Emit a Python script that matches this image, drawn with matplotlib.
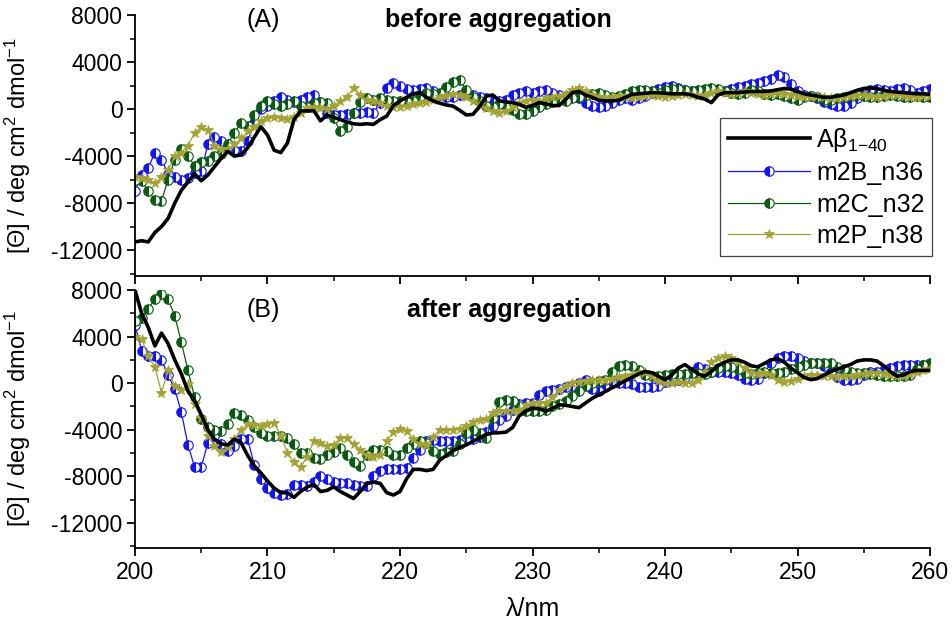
import numpy as np
import matplotlib
matplotlib.use("Agg")
import matplotlib.pyplot as plt
from matplotlib.ticker import MultipleLocator

plt.rcParams['font.family'] = ['Liberation Sans', 'DejaVu Sans']
plt.rcParams['mathtext.fontset'] = 'custom'
plt.rcParams['mathtext.rm'] = 'Liberation Sans'
plt.rcParams['mathtext.it'] = 'Liberation Sans:italic'
plt.rcParams['axes.unicode_minus'] = False

# wavelength grid, 0.5 nm steps
wl = np.arange(200, 260.5, 0.5)

# (A) before aggregation
ab_before = [-11300, -11200, -11300, -10500, -10000, -9300, -8000, -6900, -6200, -5500,
             -6100, -5600, -4900, -4200, -3600, -4000, -3900, -3300, -2400, -1500,
             -2200, -3500, -3700, -2900, -900, -150, -150, -150, -1000, -500,
             -700, -900, -1100, -1250, -1300, -1250, -1300, -900, -600, 300,
             700, 1000, 1300, 1400, 1000, 700, 500, 350, 250, -100,
             -500, -450, 200, 1100, 1200, 700, 600, 550, 400, 150,
             300, 550, 450, 300, 300, 800, 1400, 1500, 1200, 1000,
             750, 700, 700, 750, 1000, 1250, 1300, 1350, 1400, 1400,
             1350, 1300, 1300, 1300, 1200, 1000, 850, 550, 1200, 1400,
             1400, 1400, 1450, 1500, 1500, 1500, 1550, 1650, 1750, 1700,
             1500, 1300, 1200, 1100, 1000, 1000, 1100, 1200, 1400, 1600,
             1750, 1800, 1750, 1600, 1500, 1450, 1400, 1350, 1300, 1300, 1250]
m2b_before = [-7000, -5600, -5000, -3700, -4300, -5500, -5800, -6000, -5900, -5400,
              -5300, -3000, -2400, -2700, -3200, -3500, -3600, -2700, -1200, 0,
              300, 700, 1000, 800, 600, 800, 1000, 1200, 600, -300,
              -500, -500, -400, -300, -300, -250, -300, 500, 1800, 2200,
              2000, 1700, 1600, 1700, 1800, 1500, 1200, 1000, 1000, 1200,
              1300, 1200, 1000, 900, 800, 700, 800, 1200, 1400, 1500,
              1400, 1500, 1600, 1400, 1200, 1100, 1200, 900, 500, 300,
              200, 300, 500, 800, 900, 800, 900, 1100, 1400, 1700,
              1900, 2000, 1800, 1600, 1500, 1400, 1500, 1700, 1600, 1500,
              1700, 1900, 2000, 2100, 2200, 2400, 2600, 2900, 2700, 2100,
              1500, 1200, 1100, 900, 600, 400, 300, 300, 500, 900,
              1300, 1600, 1700, 1600, 1500, 1700, 1800, 1600, 1400, 1500, 1700]
m2c_before = [-6000, -6100, -7000, -7700, -7800, -6000, -4300, -3400, -4000, -4800,
              -4500, -4400, -4000, -3800, -3000, -2000, -1200, -1400, -500, 300,
              700, 400, 250, 400, 700, 300, 200, 500, 600, 500,
              -800, -1900, -1500, -300, 600, 900, 800, 900, 800, 700,
              700, 600, 700, 1100, 1400, 1300, 1400, 1900, 2300, 2500,
              1600, 1000, 700, 300, 200, 400, 200, -100, -400, -400,
              -200, 200, 400, 600, 800, 700, 900, 1000, 1200, 1300,
              1400, 1200, 1000, 1100, 1300, 1500, 1600, 1600, 1500, 1400,
              1600, 1700, 1700, 1600, 1500, 1600, 1700, 1800, 1700, 1500,
              1400, 1300, 1400, 1600, 1500, 1300, 1200, 1300, 1100, 900,
              800, 1000, 1100, 1000, 800, 800, 900, 1000, 1100, 1200,
              1100, 1000, 1000, 1100, 1200, 1100, 1000, 1000, 1100, 1000, 1000]
m2p_before = [-5800, -5900, -6000, -6300, -5800, -5200, -4000, -3700, -3100, -2000,
              -1500, -1800, -3100, -3400, -3400, -3000, -2500, -1900, -1500, -1000,
              -800, -700, -750, -850, -700, -300, 100, 150, 100, 0,
              300, 700, 1000, 1800, 1200, 800, 700, 500, 300, 200,
              200, 300, 400, 500, 600, 800, 1000, 1100, 1300, 1200,
              1000, 700, 400, 100, -200, -300, -200, 200, 500, 700,
              800, 700, 900, 1000, 1100, 1300, 1600, 1800, 1500, 1200,
              1000, 900, 1000, 1100, 1000, 900, 1000, 1100, 1200, 1100,
              1000, 1100, 1200, 1300, 1200, 1100, 1200, 1400, 1500, 1400,
              1300, 1400, 1500, 1400, 1300, 1200, 1300, 1400, 1300, 1200,
              1100, 1000, 1000, 1100, 1000, 900, 900, 1000, 1100, 1200,
              1200, 1100, 1000, 1100, 1200, 1200, 1100, 1000, 1000, 1100, 1100]

# (B) after aggregation
ab_after = [8000, 6000, 4800, 3200, 4300, 3400, 2000, 800, -700, -1500,
            -2700, -4000, -4800, -5200, -5300, -4800, -5100, -6200, -7100, -7700,
            -8400, -9000, -9400, -9400, -9800, -9300, -8900, -8700, -9300, -9200,
            -8900, -9300, -9600, -9900, -9300, -8600, -8500, -8600, -9400, -9600,
            -9300, -8200, -7400, -7400, -7500, -7400, -6600, -6200, -5800, -5500,
            -5300, -5000, -4700, -4400, -4270, -4250, -4200, -3800, -2800, -2400,
            -2150, -2200, -2400, -2200, -1850, -1900, -2000, -2100, -1700, -1300,
            -1000, -700, -400, -100, 200, 500, 800, 1000, 900, 600,
            300, 700, 1300, 1600, 1200, 800, 600, 1000, 1500, 1800,
            2000, 2000, 1800, 1500, 1400, 1700, 2000, 2100, 1800, 1300,
            900, 500, 300, 400, 700, 1000, 1200, 1400, 1600, 1900,
            2000, 2000, 1900, 1500, 1000, 600, 700, 1000, 1100, 1100, 1100]
m2b_after = [5000, 2800, 2300, 2300, 2000, 700, -500, -2500, -5300, -7200,
             -7200, -5100, -4500, -5200, -5800, -5400, -4800, -4800, -7000, -8200,
             -9000, -9400, -9600, -9500, -8700, -8700, -8800, -8500, -8000, -8200,
             -8500, -8600, -8600, -8700, -8800, -8800, -8000, -7500, -7400, -7400,
             -7400, -7300, -6400, -5700, -5000, -4900, -5000, -5000, -5000, -4900,
             -4850, -4800, -4600, -4200, -3700, -3200, -2800, -2300, -1800, -1700,
             -1700, -1000, -700, -600, -500, -300, -200, 0, 300, -500,
             -700, -300, 0, 0, 0, -100, -300, -300, -300, -200,
             100, 300, 300, 500, 1000, 1400, 1200, 1000, 1000, 1000,
             900, 700, 400, 300, 400, 900, 1700, 2200, 2300, 2300,
             2200, 1900, 1700, 1700, 1500, 1000, 500, 300, 300, 400,
             700, 1000, 1000, 1100, 1300, 1500, 1600, 1600, 1600, 1600, 1600]
m2c_after = [5300, 5600, 6400, 7200, 7700, 7200, 5800, 3500, 1100, -1200,
             -3100, -3800, -4000, -4100, -3500, -2600, -2700, -3200, -3800, -4300,
             -4500, -4500, -4500, -4700, -5200, -6000, -6000, -6400, -6500, -6200,
             -5900, -5600, -6200, -6800, -7100, -6200, -5700, -5700, -5800, -6200,
             -6200, -5600, -5200, -5000, -5100, -5800, -6100, -5900, -5800, -5200,
             -4300, -4000, -4300, -4700, -3000, -1600, -1400, -1500, -2000, -2400,
             -2400, -2400, -2300, -2000, -1800, -1500, -1100, -700, -200, 0,
             200, 300, 1000, 1500, 1600, 1500, 1100, 700, 600, 600,
             700, 800, 800, 800, 900, 900, 800, 1000, 1300, 1500,
             1400, 1200, 900, 800, 900, 1000, 900, 900, 1000, 1200,
             1400, 1600, 1700, 1750, 1700, 1700, 1400, 1200, 1000, 900,
             900, 800, 700, 600, 600, 600, 600, 700, 1200, 1600, 1700]
m2p_after = [4000, 3800, 2300, 1400, -800, 1100, -200, -600, -100, -1800,
             -3000, -4500, -5400, -5900, -5500, -4800, -4000, -3500, -3600, -3700,
             -3500, -3400, -4500, -6000, -6800, -7200, -6300, -5000, -5100, -5400,
             -5300, -4700, -4700, -5200, -5700, -6200, -6300, -6200, -5000, -4200,
             -3900, -4100, -4800, -5200, -5300, -4600, -4000, -4000, -4000, -3900,
             -3700, -3300, -3200, -3100, -2600, -2400, -2400, -2400, -2300, -1900,
             -1700, -1700, -1700, -1200, -600, -200, 0, 100, 200, 300,
             300, 300, 400, 500, 600, 700, 900, 1000, 600, 200,
             0, 0, 100, 0, 0, 300, 1000, 1800, 2200, 2300,
             2200, 1800, 1300, 900, 800, 900, 700, 300, 100, 200,
             400, 600, 700, 700, 600, 600, 500, 600, 600, 700,
             800, 900, 900, 800, 700, 600, 600, 800, 1000, 1100, 1200]

labels = ['Aβ$_{1\\mathrm{-}40}$', 'm2B_n36', 'm2C_n32', 'm2P_n38']
blue = '#1414f0'
green = '#0b5a12'
olive = '#a3a336'

fig = plt.figure(figsize=(9.52, 6.37), dpi=100)
ax1 = fig.add_axes([0.1418, 0.5667, 0.8351, 0.4097])
ax2 = fig.add_axes([0.1418, 0.1397, 0.8351, 0.4050])


def draw(ax, ab, m2b, m2c, m2p):
    hb, = ax.plot(wl, m2b, '-', color=blue, lw=0.9, marker='o', ms=6.8,
                  mec=blue, mfc=blue, mfcalt='white', fillstyle='left', mew=0.8)
    hc, = ax.plot(wl, m2c, '-', color=green, lw=0.9, marker='o', ms=6.8,
                  mec=green, mfc=green, mfcalt='white', fillstyle='left', mew=0.8)
    hp, = ax.plot(wl, m2p, '-', color=olive, lw=0.9, marker='*', ms=7.5,
                  mec=olive, mfc=olive, mew=0.6)
    ha, = ax.plot(wl, ab, '-', color='black', lw=2.6, zorder=5)
    return [ha, hb, hc, hp]


handles = draw(ax1, ab_before, m2b_before, m2c_before, m2p_before)
draw(ax2, ab_after, m2b_after, m2c_after, m2p_after)

ax1.set_ylim(-14200, 8000)
ax2.set_ylim(-14150, 8000)
for ax in (ax1, ax2):
    ax.set_xlim(200, 260)
    ax.xaxis.set_major_locator(MultipleLocator(10))
    ax.xaxis.set_minor_locator(MultipleLocator(5))
    ax.yaxis.set_major_locator(MultipleLocator(4000))
    ax.yaxis.set_minor_locator(MultipleLocator(2000))
    ax.spines['top'].set_visible(False)
    ax.spines['right'].set_visible(False)
    for s in ('left', 'bottom'):
        ax.spines[s].set_linewidth(1.3)
    ax.tick_params(which='major', direction='out', length=6, width=1.3,
                   labelsize=16.5, pad=3)
    ax.tick_params(which='minor', direction='out', length=3.5, width=1.1)
    ax.set_ylabel('[Θ] / deg cm$^2$ dmol$^{-1}$', fontsize=17)
    ax.yaxis.set_label_coords(-0.128, 0.5)

ax1.tick_params(labelbottom=False)
ax2.set_xlabel('λ/nm', fontsize=18, labelpad=10)

ax1.text(0.161, 0.982, '(A)', transform=ax1.transAxes, ha='center', va='center', fontsize=18)
ax1.text(0.3145, 0.982, 'before aggregation', transform=ax1.transAxes, ha='left',
         va='center', fontsize=18, fontweight='bold')
ax2.text(0.161, 0.922, '(B)', transform=ax2.transAxes, ha='center', va='center', fontsize=18)
ax2.text(0.342, 0.922, 'after aggregation', transform=ax2.transAxes, ha='left',
         va='center', fontsize=18, fontweight='bold')

leg = ax1.legend(handles, labels, loc='upper right', bbox_to_anchor=(1.003, 0.605),
                 borderaxespad=0, fontsize=18, handlelength=3.3, handletextpad=0.25,
                 labelspacing=0.3, fancybox=False, edgecolor='#444444',
                 framealpha=1, borderpad=0.3)
leg.get_frame().set_linewidth(0.9)

fig.savefig('out.png', dpi=100)
